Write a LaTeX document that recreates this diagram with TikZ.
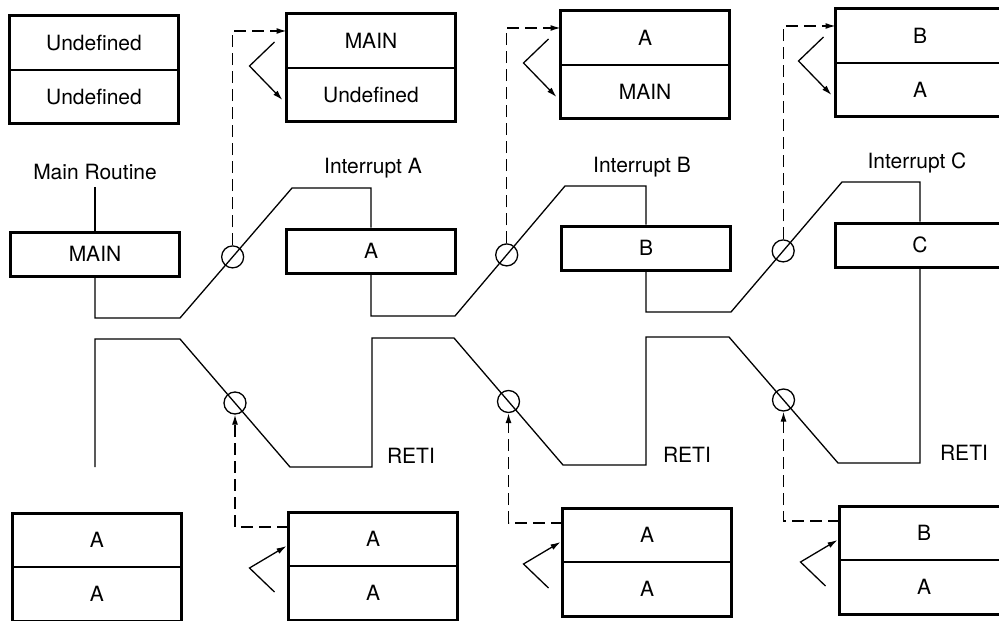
\documentclass[tikz,border=0pt]{standalone}
\usepackage{fontspec}
\setmainfont{TeX Gyre Heros}
\usetikzlibrary{positioning, arrows.meta}

\tikzset{
  cell/.style={draw, line width=0.8pt, minimum width=84.5pt, minimum height=27pt, inner sep=0pt, outer sep=0pt},
  frame/.style={line width=1.5pt},
  routine/.style={draw, line width=1.5pt, minimum width=84.5pt, minimum height=22pt, inner sep=0pt},
  flow/.style={line width=0.65pt},
  tap/.style={draw, circle, line width=0.65pt, minimum size=11pt, inner sep=0pt},
  link/.style={line width=0.65pt, dash pattern=on 6pt off 3pt, -{Latex[length=5pt, width=3pt]}},
  swapto/.style={line width=0.65pt, -{Latex[length=5pt, width=3pt]}},
}

\begin{document}
\begin{tikzpicture}[x=0.5pt, y=-0.5pt, font=\fontsize{10.5}{12}\selectfont]
    \useasboundingbox (0,0) rectangle (999,620);
    \clip (0,0) rectangle (999,620);

    % stacks on entry
    \node[cell] (s0t) at (94,43) {Undefined};
    \node[cell, below=0pt of s0t] (s0b) {Undefined};
    \draw[frame] (s0t.north west) rectangle (s0b.south east);
    \node[cell] (s1t) at (371,41) {MAIN};
    \node[cell, below=0pt of s1t] (s1b) {Undefined};
    \draw[frame] (s1t.north west) rectangle (s1b.south east);
    \node[cell] (s2t) at (645,38) {A};
    \node[cell, below=0pt of s2t] (s2b) {MAIN};
    \draw[frame] (s2t.north west) rectangle (s2b.south east);
    \node[cell] (s3t) at (920,36) {B};
    \node[cell, below=0pt of s3t] (s3b) {A};
    \draw[frame] (s3t.north west) rectangle (s3b.south east);

    % routines
    \node (mainlbl) at (95,172) {Main Routine};
    \node (intA) at (373,168) {Interrupt A};
    \node (intB) at (642,167) {Interrupt B};
    \node (intC) at (917,163) {Interrupt C};
    \node[routine] (main) at (95,254) {MAIN};
    \node[routine] (A) at (371,251) {A};
    \node[routine] (B) at (646,248) {B};
    \node[routine] (C) at (920,245) {C};
    \draw[flow] (mainlbl) -- (main);

    \draw[flow] (main.south) |- (180,318) -- node[tap, pos=.47] (in1) {} (292,188) -| (A.north);
    \draw[flow] (A.south) |- (455,316) -- node[tap, pos=.47] (in2) {} (565,186) -| (B.north);
    \draw[flow] (B.south) |- (731,312) -- node[tap, pos=.47] (in3) {} (842,182) -| (C.north);

    % returns
    \coordinate (mainend) at (95,467);
    \draw[flow] (C.south) -- (920,463) -- (838,463) -- node[tap] (out3) {} (729,337)
      -| (646,465) -- (563,465) -- node[tap] (out2) {} (454,338)
      -| (372,467) -- (290,467) -- node[tap] (out1) {} (180,339) -| (mainend);
    \node[anchor=west] (reti1) at (380,456) {RETI};
    \node[anchor=west] (reti2) at (656,455) {RETI};
    \node[anchor=west] (reti3) at (933,453) {RETI};

    % stacks on return
    \node[cell] (b0t) at (97,540) {A};
    \node[cell, below=0pt of b0t] (b0b) {A};
    \draw[frame] (b0t.north west) rectangle (b0b.south east);
    \node[cell] (b1t) at (373,539) {A};
    \node[cell, below=0pt of b1t] (b1b) {A};
    \draw[frame] (b1t.north west) rectangle (b1b.south east);
    \node[cell] (b2t) at (647,535) {A};
    \node[cell, below=0pt of b2t] (b2b) {A};
    \draw[frame] (b2t.north west) rectangle (b2b.south east);
    \node[cell] (b3t) at (924,533) {B};
    \node[cell, below=0pt of b3t] (b3b) {A};
    \draw[frame] (b3t.north west) rectangle (b3b.south east);

    % push / pop
    \draw[link] (in1.north) |- ([yshift=5pt]s1t.west);
    \draw[link] (in2.north) |- ([yshift=5pt]s2t.west);
    \draw[link] (in3.north) |- ([yshift=5pt]s3t.west);
    \draw[link] ([yshift=6pt]b1t.west) -| (out1.south);
    \draw[link] ([yshift=6pt]b2t.west) -| (out2.south);
    \draw[link] ([yshift=6pt]b3t.west) -| (out3.south);

    \draw[swapto] ([shift={(-12,1)}]s1t.west) -- ++(-25,24) -- ++(33,34);
    \draw[swapto] ([shift={(-12,1)}]s2t.west) -- ++(-25,24) -- ++(33,34);
    \draw[swapto] ([shift={(-12,1)}]s3t.west) -- ++(-25,24) -- ++(33,34);
    \draw[swapto] ([shift={(-14,53)}]b1t.west) -- ++(-25,-24) -- ++(37,-22);
    \draw[swapto] ([shift={(-14,53)}]b2t.west) -- ++(-25,-24) -- ++(37,-22);
    \draw[swapto] ([shift={(-14,53)}]b3t.west) -- ++(-25,-24) -- ++(37,-22);
  \end{tikzpicture}
\end{document}
